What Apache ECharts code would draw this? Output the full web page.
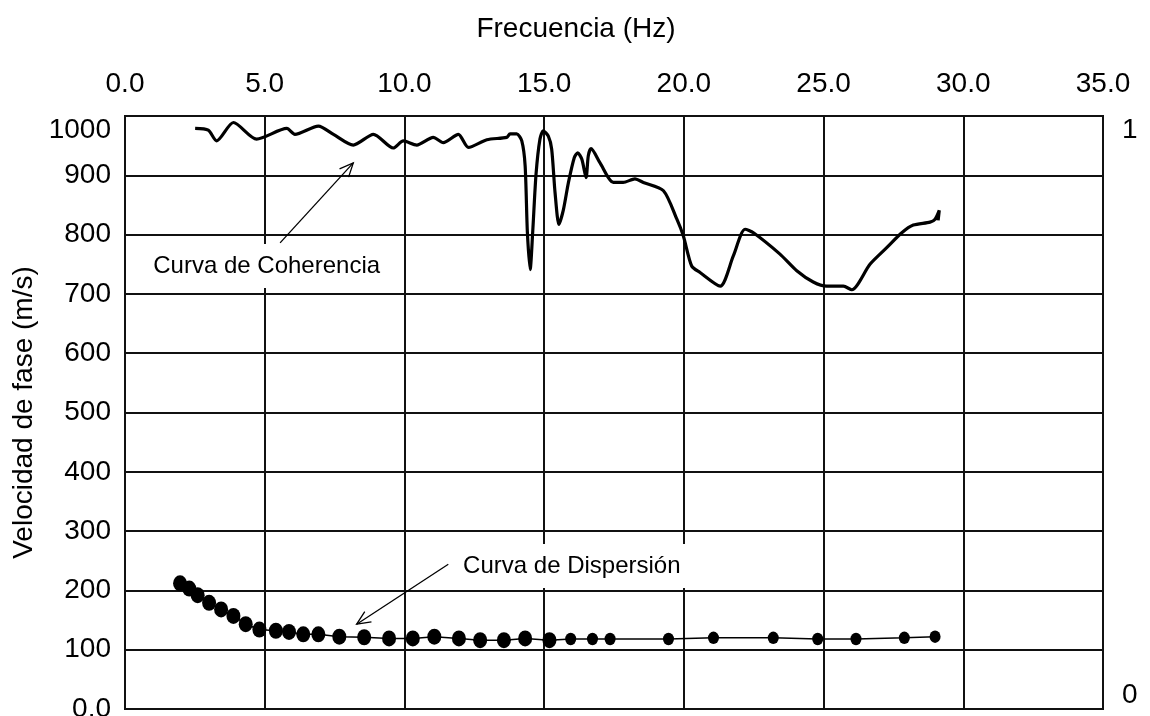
<!DOCTYPE html>
<html>
<head>
<meta charset="utf-8">
<script src="https://cdn.jsdelivr.net/npm/echarts@6/dist/echarts.min.js"></script>
<style>
  html, body { margin: 0; padding: 0; background: #fff; }
  #chart { width: 1150px; height: 716px; }
</style>
</head>
<body>
<div id="chart"></div>
<script>
// Frequency ticks (Hz) on the top axis
const freqTicks = [0, 5, 10, 15, 20, 25, 30, 35];

// Coherence curve: frequency (Hz) and coherence (0..1, right axis)
const coherenceHz = [2.51, 2.98, 3.28, 3.88, 4.71, 5.79, 6.08, 6.92, 7.46, 8.17,
  8.89, 9.60, 9.96, 10.44, 11.03, 11.39, 11.93, 12.29, 12.95, 13.66,
  13.78, 14.02, 14.20, 14.32, 14.40, 14.50, 14.59, 14.71, 14.85, 14.97,
  15.15, 15.27, 15.39, 15.53, 15.69, 15.87, 16.08, 16.20, 16.35, 16.50,
  16.58, 16.68, 17.00, 17.48, 17.83, 18.25, 18.55, 19.27, 19.75, 19.98,
  20.28, 20.58, 21.30, 21.77, 22.19, 22.49, 23.44, 24.04, 24.63, 25.11,
  25.71, 26.01, 26.66, 27.26, 27.80, 28.21, 28.81, 28.99, 29.14, 29.10];
const coherenceValue = [0.979, 0.976, 0.958, 0.989, 0.961, 0.979, 0.969, 0.983, 0.969, 0.951,
  0.969, 0.946, 0.958, 0.951, 0.964, 0.955, 0.969, 0.947, 0.960, 0.964,
  0.970, 0.970, 0.958, 0.916, 0.804, 0.741, 0.804, 0.902, 0.961, 0.975,
  0.966, 0.944, 0.871, 0.817, 0.842, 0.888, 0.930, 0.938, 0.927, 0.896,
  0.933, 0.945, 0.921, 0.888, 0.888, 0.894, 0.888, 0.874, 0.826, 0.798,
  0.747, 0.736, 0.713, 0.764, 0.809, 0.803, 0.767, 0.739, 0.720, 0.713,
  0.713, 0.707, 0.750, 0.778, 0.803, 0.816, 0.821, 0.826, 0.841, 0.824];

// Dispersion curve: frequency (Hz) and phase velocity (m/s)
const dispersionHz = [1.97, 2.30, 2.60, 3.01, 3.44, 3.88, 4.32, 4.81, 5.40, 5.87,
  6.38, 6.92, 7.67, 8.56, 9.45, 10.30, 11.07, 11.95, 12.71, 13.56,
  14.32, 15.19, 15.95, 16.73, 17.36, 19.45, 21.06, 23.20, 24.79, 26.16,
  27.89, 28.99];
const dispersionVel = [212, 203, 192, 179, 168, 157, 143, 134, 132, 130,
  126, 126, 122, 121, 119, 119, 122, 119, 116, 116,
  119, 116, 118, 118, 118, 118, 120, 120, 118, 118,
  120, 122];

// Annotation anchors in (Hz, m/s)
const coherenceNote = { text: 'Curva de Coherencia', at: [5.07, 747], from: [5.55, 786], to: [8.17, 921] };
const dispersionNote = { text: 'Curva de Dispersión', at: [15.99, 241], from: [11.57, 244], to: [8.29, 143] };

const FONT = '"Liberation Sans", Arial, sans-serif';
const coherenceData = coherenceHz.map((x, i) => [x, coherenceValue[i]]);
const dispersionData = dispersionHz.map((x, i) => [x, dispersionVel[i]]);

const chart = echarts.init(document.getElementById('chart'), null, { renderer: 'canvas' });

chart.setOption({
  animation: false,
  backgroundColor: '#fff',
  grid: {
    left: 125, right: 47, top: 116, bottom: 7,
    containLabel: false,
    outerBoundsMode: 'none',
    show: true, borderColor: '#111', borderWidth: 2, backgroundColor: 'transparent'
  },
  xAxis: {
    type: 'value',
    position: 'top',
    min: freqTicks[0], max: freqTicks[freqTicks.length - 1], interval: 5,
    name: 'Frecuencia (Hz)',
    nameLocation: 'middle',
    nameGap: 73,
    nameTextStyle: { fontFamily: FONT, fontSize: 28, color: '#000', padding: [0, 76, 0, 0] },
    axisLine: { show: true, lineStyle: { color: '#111', width: 2 } },
    axisTick: { show: false },
    axisLabel: {
      fontFamily: FONT, fontSize: 28, color: '#000', margin: 18,
      formatter: v => v.toFixed(1)
    },
    splitLine: { show: true, lineStyle: { color: '#111', width: 2 } }
  },
  yAxis: [
    {
      type: 'value',
      min: 0, max: 1000, interval: 100,
      name: 'Velocidad de fase (m/s)',
      nameLocation: 'middle',
      nameGap: 83,
      nameTextStyle: { fontFamily: FONT, fontSize: 28, color: '#000' },
      axisLine: { show: true, lineStyle: { color: '#111', width: 2 } },
      axisTick: { show: false },
      axisLabel: {
        fontFamily: FONT, fontSize: 28, color: '#000', margin: 14,
        verticalAlignMaxLabel: 'top',
        formatter: v => (v === 0 ? '0.0' : String(v))
      },
      splitLine: { show: true, lineStyle: { color: '#111', width: 2 } }
    },
    {
      type: 'value',
      position: 'right',
      min: 0, max: 1, interval: 1,
      axisLine: { show: true, lineStyle: { color: '#111', width: 2 } },
      axisTick: { show: false },
      axisLabel: {
        fontFamily: FONT, fontSize: 28, color: '#000', margin: 19,
        verticalAlignMaxLabel: 'top',
        verticalAlignMinLabel: 'bottom'
      },
      splitLine: { show: false }
    }
  ],
  series: [
    {
      name: 'Coherencia',
      type: 'line',
      yAxisIndex: 1,
      data: coherenceData,
      smooth: 0.25,
      showSymbol: false,
      lineStyle: { color: '#000', width: 3.2 },
      z: 3
    },
    {
      name: 'Dispersión',
      type: 'line',
      yAxisIndex: 0,
      data: dispersionData,
      symbol: 'circle',
      symbolSize: val => (val[0] < 15.5 ? [14, 16] : [11, 12.5]),
      itemStyle: { color: '#000' },
      lineStyle: { color: '#000', width: 1.5 },
      z: 3
    }
  ]
});

// Callout labels with arrows, placed in data space
function toPx(p) {
  return chart.convertToPixel({ xAxisIndex: 0, yAxisIndex: 0 }, p);
}

function arrowGraphics(from, to) {
  const a = toPx(from), b = toPx(to);
  const ang = Math.atan2(b[1] - a[1], b[0] - a[0]);
  const len = 15, spread = 0.42;
  const wing = s => [b[0] - len * Math.cos(ang + s), b[1] - len * Math.sin(ang + s)];
  const w1 = wing(spread), w2 = wing(-spread);
  const style = { stroke: '#000', lineWidth: 1.3 };
  return [
    { type: 'line', shape: { x1: a[0], y1: a[1], x2: b[0], y2: b[1] }, style, z: 10 },
    { type: 'polyline', shape: { points: [w1, b, w2] }, style: Object.assign({ fill: null }, style), z: 10 }
  ];
}

function noteGraphic(note, padX) {
  const c = toPx(note.at);
  return {
    type: 'text',
    x: c[0], y: c[1],
    z: 9,
    style: {
      text: note.text,
      font: '24px ' + FONT,
      fill: '#000',
      align: 'center',
      verticalAlign: 'middle',
      backgroundColor: '#fff',
      padding: [10, padX]
    }
  };
}

chart.setOption({
  graphic: [
    noteGraphic(coherenceNote, 20),
    noteGraphic(dispersionNote, 10),
    ...arrowGraphics(coherenceNote.from, coherenceNote.to),
    ...arrowGraphics(dispersionNote.from, dispersionNote.to)
  ]
});
</script>
</body>
</html>
